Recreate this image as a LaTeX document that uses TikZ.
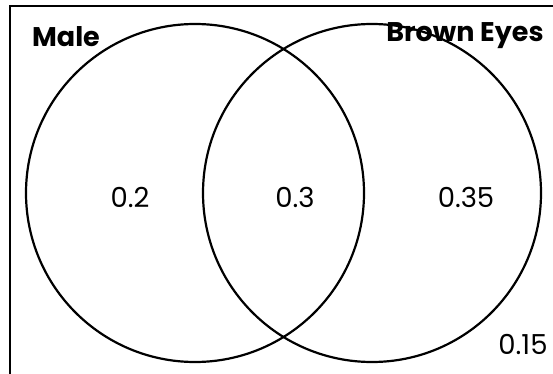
\documentclass[tikz,border=0pt]{standalone}
\usepackage{fontspec}
\setmainfont{Poppins}
\begin{document}
\begin{tikzpicture}[x=1pt,y=-1pt,
  ring/.style={draw=black,line width=2.2pt},
  val/.style={font=\fontsize{27.5}{27.5}\selectfont,inner sep=0pt,anchor=center},
  lab/.style={font=\fontsize{27}{27}\selectfont\bfseries,inner sep=0pt,anchor=base}]
\useasboundingbox (0,0) rectangle (553,374);
\clip (0,0) rectangle (553,374);
\draw[line width=2.4pt] (10,6) rectangle (600,420);
\draw[ring] (195,193) circle[radius=169];
\draw[ring] (372,193) circle[radius=169];
\node[lab] (male) at (66,47) {Male};
\node[lab] (brown) at (465,42) {Brown Eyes};
\node[val] (a) at (130,197) {0.2};
\node[val] (b) at (295,197) {0.3};
\node[val] (c) at (466,197) {0.35};
\node[val] (d) at (523,344) {0.15};
\end{tikzpicture}
\end{document}
